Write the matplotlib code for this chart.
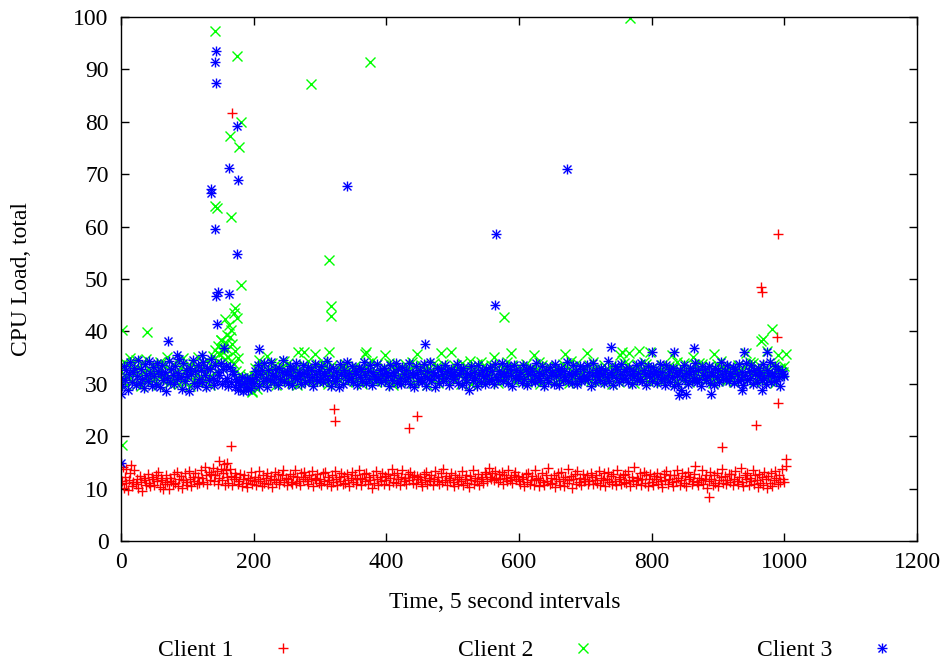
import numpy as np
import matplotlib
matplotlib.use("Agg")
import matplotlib.pyplot as plt
from matplotlib.legend_handler import HandlerTuple

# ── Data: CPU load, one reading every 2 steps of the 5-second series (t = 0..1000) ──
client1_load = [
    10.8, 11.5, 10.2, 12.3, 11.0, 9.8, 11.7, 12.9, 10.5, 11.2, 13.5, 10.9, 11.8, 10.1, 12.4, 11.3, 9.6, 12.0, 11.6, 10.7,
    12.8, 11.1, 10.4, 12.2, 11.9, 10.6, 12.5, 11.4, 13.2, 10.3, 12.1, 11.7, 10.0, 10.8, 12.6, 11.3, 9.9, 12.0, 11.5, 10.9,
    12.7, 11.0, 13.1, 10.5, 11.8, 12.4, 10.2, 11.6, 12.9, 11.2, 10.7, 13.4, 11.9, 10.4, 12.3, 11.5, 13.0, 10.8, 12.2, 11.1,
    13.6, 12.0, 11.3, 14.2, 12.5, 10.9, 13.1, 11.7, 12.8, 14.0, 11.4, 12.6, 13.3, 10.8, 12.1, 13.8, 11.6, 12.9, 10.7, 13.5,
    12.2, 11.0, 13.7, 12.4, 10.6, 11.9, 13.0, 12.3, 10.9, 11.5, 12.7, 10.4, 11.8, 12.5, 11.1, 10.3, 12.0, 11.6, 13.1, 10.8,
    11.4, 12.2, 10.7, 11.9, 13.3, 11.4, 10.5, 12.6, 11.1, 12.0, 13.0, 10.8, 11.6, 12.4, 10.3, 11.9, 13.2, 11.3, 12.7, 10.9,
    11.7, 12.5, 13.5, 11.2, 12.1, 10.6, 11.9, 12.8, 11.3, 10.9, 12.4, 13.6, 11.0, 12.2, 11.5, 10.7, 12.9, 11.8, 13.1, 12.3,
    11.4, 10.8, 12.6, 11.9, 13.4, 10.5, 12.0, 11.6, 12.8, 11.1, 11.8, 10.6, 12.9, 11.4, 13.1, 10.9, 12.3, 11.7, 10.4, 12.6,
    11.2, 13.4, 11.9, 10.7, 12.2, 11.5, 13.0, 10.8, 12.4, 11.1, 12.8, 11.6, 10.5, 12.0, 13.2, 11.3, 12.5, 10.9, 11.8, 13.6,
    12.1, 10.6, 11.9, 12.7, 11.4, 13.0, 10.8, 12.3, 11.7, 10.2, 12.6, 11.1, 13.3, 11.8, 10.7, 12.2, 11.5, 12.9, 10.9, 12.4,
    11.6, 12.8, 10.7, 12.1, 13.7, 11.3, 12.5, 11.0, 12.9, 11.8, 10.6, 12.3, 13.5, 11.4, 12.0, 10.9, 12.7, 11.6, 13.2, 12.2,
    11.1, 12.6, 10.8, 12.4, 11.9, 12.3, 11.2, 10.5, 12.8, 11.7, 13.1, 10.9, 12.0, 11.4, 12.6, 10.7, 11.9, 13.4, 11.5, 12.2,
    10.8, 12.9, 11.3, 13.8, 11.7, 12.4, 10.6, 12.1, 11.6, 13.0, 11.2, 10.4, 12.5, 11.8, 10.9, 12.2, 11.5, 13.3, 10.7, 11.9,
    12.6, 11.1, 10.3, 12.4, 11.7, 13.6, 10.8, 12.0, 11.4, 12.8, 10.6, 11.9, 12.3, 11.0, 13.1, 12.7, 11.5, 13.9, 12.2, 11.8,
    12.9, 11.6, 13.4, 12.1, 11.3, 12.8, 11.9, 13.2, 10.9, 12.5, 12.0, 11.4, 13.6, 11.7, 12.3, 11.0, 12.6, 13.1, 11.8, 12.4,
    11.5, 10.8, 12.2, 11.9, 10.5, 12.7, 11.3, 13.0, 10.9, 11.6, 12.4, 10.7, 13.5, 11.8, 12.1, 10.4, 11.7, 12.9, 11.2, 10.6,
    12.5, 11.4, 13.9, 10.8, 12.0, 11.1, 12.6, 10.3, 11.8, 12.9, 11.4, 10.7, 13.2, 11.9, 10.5, 12.3, 11.0, 13.7, 11.6, 12.4,
    10.2, 11.9, 12.8, 10.9, 13.4, 11.3, 12.1, 10.6, 12.7, 11.5, 11.8, 12.6, 10.9, 11.4, 13.0, 12.2, 10.8, 11.7, 12.5, 11.1,
    13.3, 10.7, 12.0, 11.6, 12.9, 10.4, 11.8, 13.1, 11.2, 12.4, 10.9, 12.7, 11.5, 10.6, 13.6, 11.9, 12.2, 10.8, 12.6, 11.3,
    12.8, 11.0, 13.4, 11.7, 10.5, 12.3, 11.4, 14.1, 10.9, 12.0, 11.6, 12.9, 10.7, 11.8, 13.2, 11.1, 12.5, 10.4, 11.9, 12.7,
    11.3, 10.6, 12.4, 11.8, 13.0, 10.9, 12.2, 11.5, 10.3, 12.8, 11.7, 13.3, 10.8, 11.9, 12.5, 11.2, 10.5, 12.6, 11.4, 13.5,
    12.1, 10.7, 11.6, 12.9, 11.0, 12.4, 10.4, 13.1, 11.8, 12.3, 10.9, 11.5, 12.7, 14.4, 11.2, 10.6, 12.0, 11.7, 13.6, 10.8,
    11.9, 12.5, 10.2, 11.4, 13.2, 11.8, 10.7, 12.6, 11.1, 12.9, 10.5, 11.7, 12.2, 13.8, 11.0, 12.4, 10.8, 11.6, 12.7, 11.3,
    12.8, 10.6, 11.9, 13.4, 11.5, 10.9, 12.3, 14.0, 11.2, 10.4, 12.6, 11.8, 13.0, 10.7, 12.1, 11.4, 13.5, 10.9, 12.5, 11.6,
    10.3, 12.7, 11.1, 12.2, 10.6, 13.1, 11.8, 10.2, 12.4, 11.0, 12.9, 10.5, 11.7, 13.3, 12.0, 10.8, 12.6, 11.3, 13.7, 11.9,
    11.2,
]

client2_load = [
    32.4, 30.6, 34.2, 31.5, 29.8, 33.6, 31.1, 35.0, 30.3, 32.8, 31.7, 34.5, 30.0, 33.1, 31.9, 29.5, 33.9, 32.2, 30.8, 34.8,
    31.3, 32.9, 30.4, 33.5, 31.6, 30.9, 33.3, 32.0, 29.7, 34.1, 31.4, 32.6, 30.5, 33.8, 31.8, 35.2, 30.2, 32.5, 31.0, 33.7,
    30.7, 32.3, 34.4, 31.2, 29.9, 33.0, 31.7, 34.9, 30.1, 32.7, 31.5, 33.6, 29.6, 32.1, 34.0, 30.8, 33.2, 31.9, 35.1, 30.4,
    32.8, 31.1, 33.9, 30.6, 32.4, 34.6, 31.3, 29.8, 33.4, 35.3, 32.0, 36.4, 34.2, 37.2, 35.6, 38.3, 33.1, 36.0, 34.7, 37.8,
    36.6, 35.2, 38.9, 34.4, 37.5, 33.8, 36.2, 32.5, 34.9, 30.7, 31.9, 29.6, 31.2, 30.1, 29.3, 30.8, 31.5, 29.9, 30.4, 28.7,
    31.5, 33.0, 30.3, 32.7, 34.6, 31.1, 29.9, 33.4, 32.1, 30.6, 35.3, 31.8, 32.9, 30.2, 34.0, 31.4, 33.6, 29.7, 32.3, 32.8,
    31.0, 33.2, 30.8, 34.3, 32.0, 30.5, 33.9, 31.7, 32.8, 30.1, 32.2, 31.3, 33.1, 29.8, 32.4, 31.9, 31.6, 30.9, 33.5, 32.2,
    30.4, 34.4, 31.9, 33.0, 30.7, 32.6, 35.6, 31.2, 33.7, 30.3, 32.9, 31.4, 34.1, 30.6, 33.3, 32.0, 29.9, 32.5, 31.7, 33.6,
    30.2, 32.5, 31.3, 31.1, 33.0, 30.8, 32.3, 32.9, 31.5, 33.8, 30.4, 32.7, 31.0, 31.6, 32.1, 31.8, 33.4, 30.5, 32.2, 32.4,
    31.3, 33.1, 30.0, 32.6, 35.7, 31.6, 33.9, 30.7, 32.4, 34.3, 31.0, 32.0, 30.3, 33.7, 32.1, 31.4, 31.2, 30.8, 33.2, 35.5,
    32.0, 30.6, 34.0, 31.7, 33.5, 29.7, 32.8, 32.3, 31.2, 33.0, 30.4, 31.5, 32.3, 31.1, 33.8, 30.9, 32.6, 32.5, 31.5, 34.2,
    30.1, 33.3, 31.8, 35.6, 32.7, 31.0, 33.6, 30.5, 32.9, 31.9, 31.4, 29.8, 33.1, 32.2, 32.7, 30.7, 34.0, 31.9, 33.4, 30.2,
    32.6, 35.8, 31.3, 33.7, 30.9, 32.4, 31.8, 31.6, 33.0, 36.1, 31.2, 33.5, 30.6, 32.8, 32.0, 31.7, 30.0, 33.9, 32.1, 32.5,
    30.8, 33.2, 31.5, 34.3, 29.9, 32.7, 32.2, 31.0, 33.8, 30.4, 32.5, 34.1, 31.8, 33.3, 30.7, 32.9, 31.3, 31.9, 30.5, 33.6,
    32.0, 35.2, 31.6, 33.1, 30.2, 32.4, 32.3, 31.1, 32.8, 33.0, 30.8, 34.2, 32.6, 31.4, 35.9, 33.5, 30.6, 32.8, 31.7, 31.9,
    33.4, 30.9, 32.2, 32.5, 31.7, 33.8, 30.3, 32.5, 31.8, 31.2, 33.0, 35.5, 30.6, 32.9, 31.5, 34.1, 30.0, 33.6, 32.4, 32.1,
    31.1, 33.3, 30.7, 31.9, 32.1, 31.8, 32.6, 30.4, 33.2, 32.7, 31.0, 32.3, 30.8, 33.7, 32.3, 35.6, 31.4, 33.0, 30.2, 34.3,
    32.5, 31.3, 32.0, 30.6, 33.9, 32.0, 31.6, 31.5, 30.9, 33.1, 32.8, 35.8, 31.2, 33.5, 30.5, 32.4, 34.2, 31.7, 33.0, 32.2,
    30.3, 32.9, 32.1, 31.0, 33.6, 32.2, 30.7, 31.6, 31.5, 33.3, 29.9, 32.6, 32.0, 31.8, 33.1, 30.4, 35.5, 32.3, 31.1, 34.0,
    32.7, 30.8, 33.8, 35.9, 31.4, 33.0, 32.1, 30.2, 31.9, 31.6, 33.5, 32.4, 30.9, 32.4, 34.1, 31.2, 33.7, 30.5, 32.8, 36.0,
    31.3, 33.2, 30.6, 32.0, 32.0, 31.7, 32.5, 30.3, 33.6, 32.5, 31.0, 31.8, 30.8, 33.4, 32.2, 35.4, 31.5, 33.0, 30.1, 34.2,
    32.6, 31.1, 32.3, 30.7, 33.9, 32.3, 31.4, 32.0, 30.4, 33.1, 32.8, 35.2, 31.8, 33.5, 30.9, 32.4, 34.0, 31.2, 33.7, 32.1,
    30.5, 32.9, 31.6, 31.6, 33.3, 32.0, 30.2, 35.6, 31.3, 33.8, 32.5, 30.8, 34.3, 31.9, 33.0, 32.6, 30.6, 32.7, 31.8, 31.0,
    33.4, 32.1, 30.4, 32.4, 31.7, 33.6, 32.4, 30.9, 31.5, 31.4, 33.2, 35.8, 30.7, 32.6, 34.1, 31.5, 33.9, 30.3, 32.8, 32.2,
    31.2, 33.5, 32.0, 30.6, 32.3, 31.8, 33.1, 36.2, 30.8, 32.5, 31.7, 31.3, 33.7, 30.1, 32.9, 35.4, 31.6, 33.0, 32.0, 32.2,
    33.4,
]

client3_load = [
    31.2, 29.5, 33.4, 30.8, 32.6, 28.9, 31.9, 34.1, 30.3, 32.2, 33.0, 29.8, 31.5, 34.6, 30.1, 32.8, 31.0, 29.2, 33.7, 31.6,
    30.5, 34.3, 32.0, 29.6, 33.2, 31.4, 30.0, 34.0, 32.5, 29.3, 31.8, 33.6, 30.7, 32.3, 28.6, 31.1, 34.4, 30.4, 32.9, 31.7,
    29.9, 33.3, 30.9, 32.1, 34.8, 31.3, 29.1, 33.9, 30.6, 32.7, 31.5, 28.7, 33.0, 31.8, 34.5, 30.2, 32.4, 29.5, 33.6, 31.0,
    32.6, 30.3, 34.2, 31.7, 29.4, 33.1, 30.8, 32.9, 34.7, 31.2, 29.8, 33.5, 30.5, 32.2, 31.6, 34.0, 29.9, 32.8, 30.6, 33.4,
    31.1, 29.6, 33.2, 30.4, 32.5, 31.8, 29.3, 31.0, 28.9, 30.6, 29.7, 31.3, 28.6, 30.2, 29.4, 31.1, 28.8, 30.5, 29.2, 30.9,
    30.1, 32.4, 31.3, 33.5, 29.6, 31.9, 32.7, 30.5, 33.9, 31.2, 29.4, 32.6, 30.8, 34.2, 31.7, 30.3, 32.9, 31.4, 29.8, 33.1,
    31.0, 32.3, 34.5, 30.6, 31.8, 32.5, 30.2, 33.3, 31.6, 29.7, 32.8, 31.1, 34.0, 30.9, 32.2, 31.5, 29.9, 33.6, 32.0, 30.4,
    31.8, 33.2, 30.7, 32.6, 31.3, 29.5, 33.8, 31.9, 30.6, 32.4, 31.0, 33.4, 30.3, 32.1, 31.7, 34.3, 30.8, 32.9, 29.6, 31.5,
    33.0, 30.5, 32.3, 31.2, 29.3, 33.7, 31.8, 30.0, 32.7, 31.4, 34.1, 30.7, 32.0, 31.1, 33.3, 30.4, 32.5, 31.9, 29.8, 33.1,
    31.3, 32.8, 30.6, 34.2, 31.6, 30.1, 32.4, 31.0, 33.5, 29.7, 32.2, 31.5, 30.9, 33.8, 31.2, 32.6, 30.3, 31.8, 33.0, 30.8,
    32.1, 31.4, 29.5, 33.6, 30.7, 32.3, 31.7, 34.0, 30.2, 32.9, 31.1, 29.9, 33.2, 31.8, 30.5, 32.6, 31.3, 33.9, 30.0, 32.0,
    31.6, 29.4, 33.4, 31.9, 30.6, 32.7, 31.2, 30.4, 33.7, 31.5, 29.6, 32.4, 31.0, 34.1, 30.8, 32.2, 31.7, 29.3, 33.0, 31.4,
    30.1, 32.8, 31.9, 30.6, 33.5, 31.1, 32.5, 29.8, 31.6, 32.9, 30.9, 32.3, 31.5, 33.8, 30.2, 31.8, 32.6, 29.7, 33.1, 31.3,
    30.4, 32.0, 28.9, 31.7, 33.4, 30.7, 32.2, 31.1, 29.5, 33.6, 31.9, 30.3, 32.7, 31.4, 30.0, 32.8, 31.6, 30.5, 33.2, 31.0,
    32.4, 29.9, 33.7, 31.3, 30.8, 32.5, 31.8, 34.0, 30.6, 32.1, 31.4, 33.3, 30.2, 32.9, 31.7, 29.6, 33.5, 31.2, 32.6, 30.9,
    31.5, 32.3, 30.1, 33.6, 31.0, 32.8, 29.8, 31.9, 33.1, 30.5, 32.4, 31.6, 30.3, 33.9, 31.2, 32.0, 30.7, 33.4, 31.8, 29.5,
    32.7, 31.1, 30.4, 33.2, 31.7, 32.2, 30.0, 33.8, 31.4, 32.6, 29.7, 31.9, 33.0, 30.8, 32.5, 31.3, 34.2, 30.6, 32.1, 31.6,
    30.2, 33.5, 31.8, 32.4, 29.9, 31.2, 33.3, 30.5, 32.8, 31.5, 30.9, 33.6, 31.0, 32.3, 29.6, 31.7, 33.9, 30.3, 32.6, 31.4,
    32.0, 30.7, 33.1, 31.9, 30.1, 32.7, 31.3, 34.3, 30.6, 32.2, 31.6, 29.8, 33.4, 31.1, 32.9, 30.4, 31.8, 33.7, 30.9, 32.5,
    31.2, 32.8, 30.3, 33.0, 31.7, 29.9, 32.4, 31.5, 33.6, 30.8, 32.1, 31.0, 34.0, 30.5, 32.6, 31.8, 29.7, 33.3, 31.4, 32.0,
    30.6, 33.2, 31.9, 32.5, 30.2, 31.6, 33.8, 30.9, 32.3, 31.1, 29.8, 33.5, 31.7, 32.8, 30.4, 31.3, 33.0, 29.6, 32.2, 31.5,
    30.0, 32.7, 28.8, 31.4, 33.6, 30.7, 32.1, 29.9, 31.8, 33.1, 30.5, 32.4, 31.2, 33.9, 30.3, 32.6, 31.0, 29.5, 33.4, 31.6,
    32.9, 30.8, 31.5, 33.3, 30.1, 32.2, 31.7, 29.7, 33.0, 31.3, 32.6, 30.4, 34.1, 31.8, 30.9, 32.5, 31.1, 33.6, 30.6, 32.0,
    31.4, 33.2, 30.2, 32.8, 31.9, 30.5, 33.7, 31.0, 32.3, 29.8, 31.6, 34.0, 30.7, 32.4, 31.2, 33.5, 30.0, 32.7, 31.8, 30.4,
    33.1, 31.5, 32.2, 30.8, 33.8, 31.1, 29.9, 32.6, 31.7, 34.2, 30.3, 32.0, 31.4, 33.3, 30.6, 32.9, 31.3, 29.6, 32.5, 31.9,
    31.5,
]

# isolated readings away from the main bands
client1_spike_t = [3, 8, 15, 148, 155, 160, 166, 167, 321, 323, 434, 446,
                   886, 906, 957, 965, 966, 989, 990, 990, 1002, 1003]
client1_spike_v = [14.2, 13.8, 14.5, 15.2, 14.6, 14.9, 18.2, 81.6, 25.2, 22.9,
                   21.6, 23.9, 8.4, 18.0, 22.2, 48.4, 47.6, 39.0, 26.4, 58.5,
                   15.7, 14.3]

client2_spike_t = [2, 2, 39, 142, 142, 144, 148, 151, 154, 157, 160, 163, 164,
                   166, 166, 170, 172, 175, 175, 178, 181, 181, 197, 205, 267,
                   276, 286, 314, 314, 317, 317, 369, 375, 577, 755, 767, 781,
                   965, 968, 981, 1002]
client2_spike_v = [40.3, 18.4, 39.8, 97.3, 63.9, 63.6, 35.6, 38.4, 36.9, 42.4,
                   39.4, 41.3, 77.2, 61.9, 40.3, 43.5, 44.4, 92.5, 42.6, 75.1,
                   79.9, 48.9, 28.5, 29.0, 36.0, 36.0, 87.2, 53.7, 36.0, 44.9,
                   43.0, 36.0, 91.4, 42.8, 36.0, 99.8, 36.2, 38.1, 38.6, 40.5,
                   35.6]

client3_spike_t = [0, 0, 71, 84, 122, 136, 136, 142, 142, 143, 143, 143, 145,
                   146, 155, 163, 163, 175, 175, 176, 208, 341, 458, 564, 565,
                   672, 739, 800, 834, 841, 851, 864, 889, 936, 939, 966, 974]
client3_spike_v = [14.9, 28.0, 38.2, 35.5, 35.5, 67.1, 66.5, 59.5, 91.4, 93.5,
                   87.4, 46.7, 41.5, 47.6, 36.9, 71.1, 47.2, 79.2, 54.7, 68.9,
                   36.7, 67.7, 37.5, 45.1, 58.5, 70.9, 37.1, 36.0, 36.0, 27.9,
                   28.1, 36.9, 28.1, 28.9, 36.0, 28.9, 36.0]

series = [
    ('Client 1', client1_load, client1_spike_t, client1_spike_v, '#ff0000'),
    ('Client 2', client2_load, client2_spike_t, client2_spike_v, '#00ff00'),
    ('Client 3', client3_load, client3_spike_t, client3_spike_v, '#0000ff'),
]

plt.rcParams['font.family'] = ['Liberation Serif', 'DejaVu Serif']
plt.rcParams['font.size'] = 17

fig = plt.figure(figsize=(9.5, 6.66), dpi=100)
ax = fig.add_axes([0.1274, 0.1877, 0.8379, 0.7868])

ms = 7.5
mew = 1.0
handles = []
for name, load, spike_t, spike_v, color in series:
    t = np.linspace(0, 1000, len(load))
    tt = np.concatenate([t, spike_t])
    vv = np.concatenate([load, spike_v])
    if name == 'Client 3':
        # gnuplot-style asterisk: a plus laid over a cross
        h1, = ax.plot(tt, vv, ls='none', marker='+', ms=ms, mew=mew, color=color)
        h2, = ax.plot(tt, vv, ls='none', marker='x', ms=ms * 0.75, mew=mew, color=color)
        handles.append((h1, h2))
    else:
        marker = '+' if name == 'Client 1' else 'x'
        size = ms if marker == '+' else ms * 0.9
        h, = ax.plot(tt, vv, ls='none', marker=marker, ms=size, mew=mew, color=color)
        handles.append(h)

ax.set_xlim(0, 1200)
ax.set_ylim(0, 100)
ax.set_xticks(np.arange(0, 1201, 200))
ax.set_yticks(np.arange(0, 101, 10))
ax.tick_params(direction='in', length=6, width=1, top=True, right=True)
ax.tick_params(axis='y', pad=9)
ax.tick_params(axis='x', pad=8)
for s in ax.spines.values():
    s.set_linewidth(1.0)

ax.set_xlabel('Time, 5 second intervals')
ax.set_ylabel('CPU Load, total')
ax.xaxis.set_label_coords(0.482, -0.097)
ax.yaxis.set_label_coords(-0.112, 0.5)

fig.legend(handles, [s[0] for s in series], ncol=3, frameon=False,
           markerfirst=False, loc='center left',
           bbox_to_anchor=(158 / 950, 0.024), borderpad=0, borderaxespad=0,
           handlelength=2.0, handletextpad=1.1, columnspacing=6.4,
           handler_map={tuple: HandlerTuple(ndivide=1, pad=0)})

fig.savefig('out.png', dpi=100)
